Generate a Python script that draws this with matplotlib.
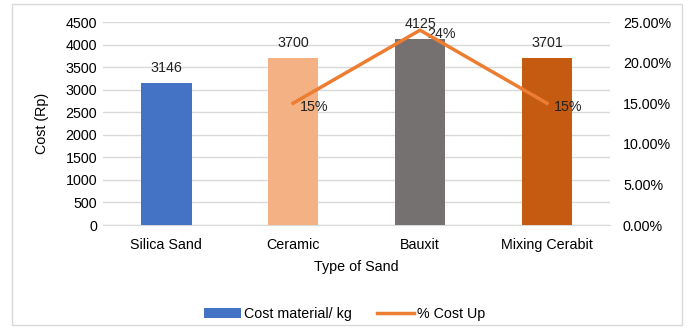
import matplotlib.pyplot as plt
from matplotlib.patches import Rectangle
from matplotlib.ticker import PercentFormatter

plt.rcParams['font.family'] = ['Liberation Sans', 'DejaVu Sans']
plt.rcParams['font.size'] = 10.3

sands = ["Silica Sand", "Ceramic", "Bauxit", "Mixing Cerabit"]
cost = [3146, 3700, 4125, 3701]
bar_colors = ["#4472C4", "#F4B183", "#767171", "#C55A11"]
# cost-up percentage, no value for the first sand
up_x = ["Ceramic", "Bauxit", "Mixing Cerabit"]
up_pct = [15, 24, 15]

fig = plt.figure(figsize=(6.89, 3.29), dpi=100)
ax = fig.add_axes([0.149, 0.316, 0.737, 0.617])

xs = list(range(len(sands)))
bars = ax.bar(xs, cost, width=0.4, color=bar_colors, zorder=3, label="Cost material/ kg")
for x, v in zip(xs, cost):
    ax.annotate(str(v), (x, v), xytext=(0, 6), textcoords="offset points",
                ha="center", va="bottom", color="#222222", zorder=5)

ax.set_ylim(0, 4500)
ax.set_yticks(range(0, 4501, 500))
ax.set_xlim(-0.5, 3.5)
ax.set_xticks(xs)
ax.set_xticklabels(sands)
ax.grid(axis="y", color="#D9D9D9", linewidth=1, zorder=0)
for s in ["top", "left", "right"]:
    ax.spines[s].set_visible(False)
ax.spines["bottom"].set_color("#D9D9D9")
ax.tick_params(length=0, pad=4)
ax.tick_params(axis="x", pad=9)
ax.set_xlabel("Type of Sand", labelpad=6)
ax.set_ylabel("Cost (Rp)", labelpad=12)

ax2 = ax.twinx()
up_pos = [sands.index(s) for s in up_x]
line, = ax2.plot(up_pos, up_pct, color="#ED7D31", linewidth=2.5, zorder=4, label="% Cost Up")
for x, v in zip(up_pos, up_pct):
    ax2.annotate(f"{v}%", (x, v), xytext=(5, -3), textcoords="offset points",
                 ha="left", va="center", color="#222222")
ax2.set_ylim(0, 25)
ax2.set_yticks(range(0, 26, 5))
ax2.yaxis.set_major_formatter(PercentFormatter(decimals=2))
for s in ["top", "left", "right", "bottom"]:
    ax2.spines[s].set_visible(False)
ax2.tick_params(length=0, pad=9)

fig.legend([bars, line], ["Cost material/ kg", "% Cost Up"], loc="lower center",
           bbox_to_anchor=(0.5, -0.015), ncol=2, frameon=False,
           handlelength=2.6, handleheight=0.7, handletextpad=0.2, columnspacing=1.8)

fig.patches.append(Rectangle((0.018, 0.012), 0.972, 0.975, transform=fig.transFigure,
                             fill=False, edgecolor="#D9D9D9", linewidth=1))

fig.savefig("out.png", dpi=100)
